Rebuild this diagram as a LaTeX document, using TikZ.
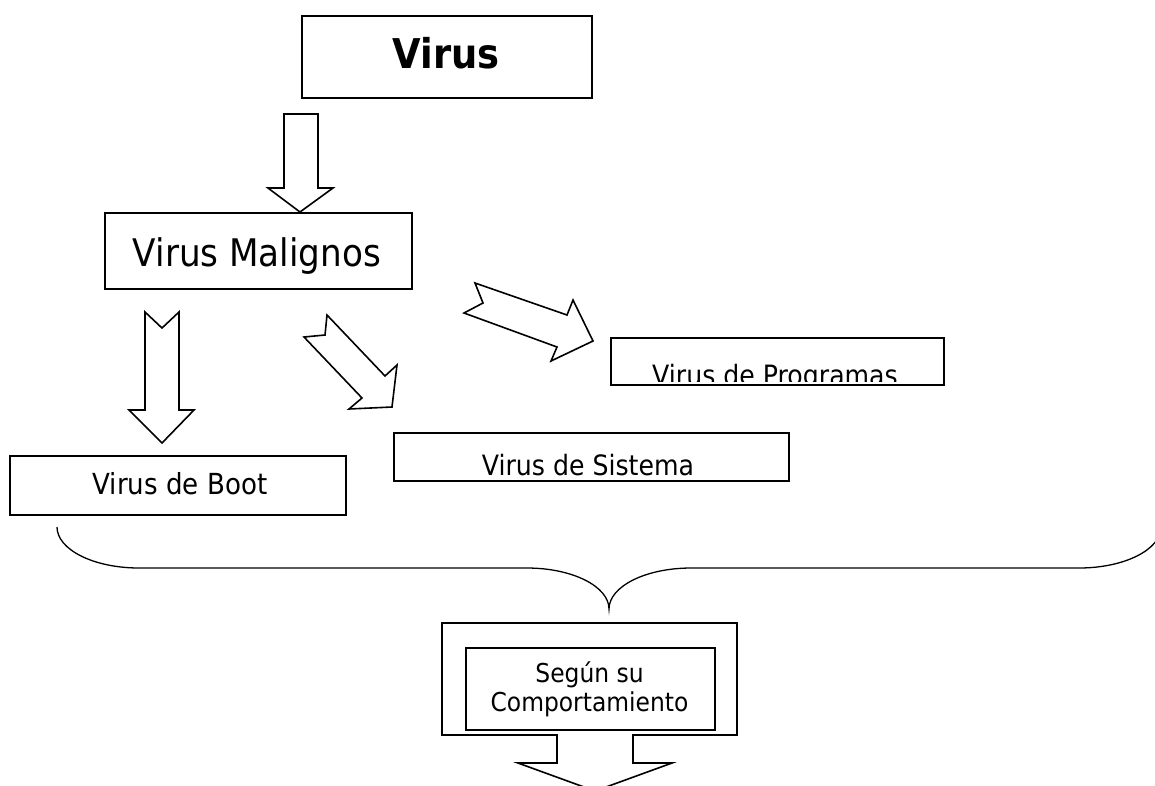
\documentclass[tikz,border=0pt]{standalone}
\usepackage{fontspec}
\setmainfont{DejaVu Sans}[FakeStretch=0.9]
\begin{document}
\begin{tikzpicture}[x=1pt,y=-1pt,line width=1.6pt,line join=miter,
  box/.style={draw,rectangle,inner sep=0pt,anchor=north west},
  lbl/.style={anchor=base,inner sep=0pt},
  blockarrow/.style={draw,fill=white,line width=1.6pt}]
\useasboundingbox (0,0) rectangle (1155,785);
% boxes
\node[box,minimum width=290pt,minimum height=82pt] (virus) at (301,15) {};
\node[lbl,font=\fontsize{41}{49}\selectfont\bfseries] (virust) at (446,68) {Virus};
\node[box,minimum width=307pt,minimum height=76pt] (malignos) at (104,212) {};
\node[lbl,font=\fontsize{38}{46}\selectfont] (malignost) at (257,266) {Virus Malignos};
\node[box,minimum width=333pt,minimum height=47pt] (programas) at (610,337) {};
\begin{scope}
\clip (610,337) rectangle (943,381);
\node[lbl,font=\fontsize{28}{33}\selectfont] (programast) at (775,385) {Virus de Programas};
\end{scope}
\node[box,minimum width=395pt,minimum height=48pt] (sistema) at (393,432) {};
\begin{scope}
\clip (393,432) rectangle (788,476);
\node[lbl,font=\fontsize{28}{33}\selectfont] (sistemat) at (588,475) {Virus de Sistema};
\end{scope}
\node[box,minimum width=336pt,minimum height=59pt] (boot) at (9,455) {};
\node[lbl,font=\fontsize{29}{34}\selectfont] (boott) at (180,494) {Virus de Boot};
% block arrows
\draw[blockarrow] (284,114) -- (318,114) -- (318,188) -- (333,188) -- (300,212) -- (268,188) -- (284,188) -- cycle;
\draw[blockarrow] (145,312) -- (162,328) -- (179,312) -- (179,410) -- (194,410) -- (162,443) -- (129,410) -- (145,410) -- cycle;
\draw[blockarrow] (327,315) -- (385,376) -- (397,365) -- (392,407) -- (349,409) -- (362,398) -- (304,337) -- (325,335) -- cycle;
\draw[blockarrow] (475,283) -- (567,315) -- (573,300) -- (593,341) -- (551,361) -- (557,347) -- (464,313) -- (483,303) -- cycle;
% brace
\draw[line width=1.3pt] (57,527) .. controls (57,549.6) and (93.7,568) .. (139,568) -- (527,568)
  .. controls (572.3,568) and (609,586.4) .. (609,609)
  .. controls (609,586.4) and (645.7,568) .. (691,568) -- (1079,568)
  .. controls (1124.3,568) and (1161,549.6) .. (1161,527);
% callout with down arrow
\draw (442,623) -- (737,623) -- (737,735) -- (633,735) -- (633,763) -- (672,763) -- (595,791)
  -- (518,763) -- (557,763) -- (557,735) -- (442,735) -- cycle;
\node[box,minimum width=249pt,minimum height=82pt] (segun) at (465,647) {};
\node[align=center,inner sep=0pt,font=\fontsize{26}{29}\selectfont] (segunt) at (589.5,689) {Según su\\Comportamiento};
\end{tikzpicture}
\end{document}
